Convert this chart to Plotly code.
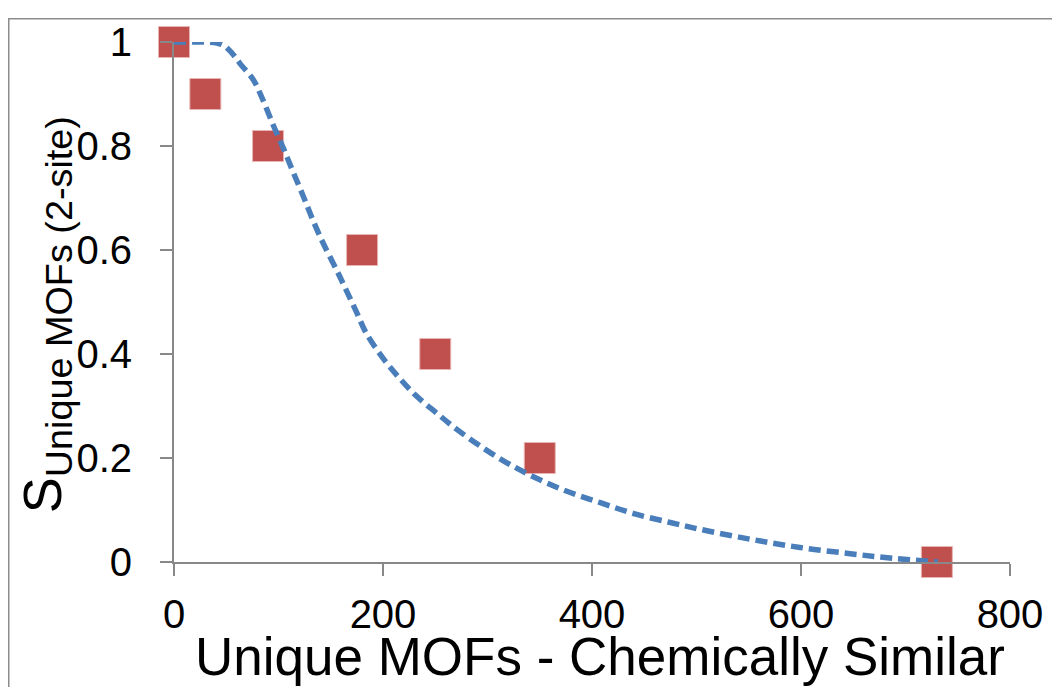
import plotly.graph_objects as go

# Data
marker_x = [0, 30, 90, 180, 250, 350, 730]
marker_y = [1.0, 0.9, 0.8, 0.6, 0.4, 0.2, 0.0]

curve_x = [0, 20, 32, 41, 47, 52, 57, 63, 76, 85, 95, 105, 114, 124, 133, 143, 156,
           165, 175, 184, 200, 216, 232, 251, 270, 296, 321, 347, 376, 408, 440,
           475, 503, 551, 599, 647, 688, 731]
curve_y = [1.0, 1.0, 1.0, 0.998, 0.994, 0.986, 0.975, 0.959, 0.927, 0.889, 0.84,
           0.794, 0.75, 0.702, 0.657, 0.612, 0.56, 0.522, 0.479, 0.44, 0.392,
           0.353, 0.319, 0.287, 0.256, 0.219, 0.188, 0.161, 0.136, 0.114, 0.093,
           0.076, 0.063, 0.044, 0.028, 0.016, 0.007, 0.0]

x_ticks = [0, 200, 400, 600, 800]
y_ticks = [0, 0.2, 0.4, 0.6, 0.8, 1]
y_tick_text = ["0", "0.2", "0.4", "0.6", "0.8", "1"]

# page body adds an 8px offset; figure coordinates are screen minus 8
W, H = 1052, 679
L, R, T, B = 166, 50, 27, 125
pw, ph = W - L - R, H - T - B

fig = go.Figure()
fig.add_trace(go.Scatter(
    x=marker_x, y=marker_y, mode="markers",
    marker=dict(symbol="square", size=31, color="#C0504D",
                line=dict(color="#E8B4B3", width=1)),
    cliponaxis=False, showlegend=False))
fig.add_trace(go.Scatter(
    x=curve_x, y=curve_y, mode="lines",
    line=dict(color="#4A7EBB", width=5.5, dash="12px,6px", shape="spline",
              smoothing=1),
    cliponaxis=False, showlegend=False))

axis_font = dict(family="Liberation Sans, Arial", size=40, color="black")
fig.update_xaxes(range=[0, 800], tickvals=x_ticks, ticks="outside", ticklen=12,
                 tickwidth=2, tickcolor="#888888", showline=True, linecolor="#888888",
                 linewidth=2, showgrid=False, zeroline=False, tickfont=axis_font,
                 ticklabelstandoff=4)
fig.update_yaxes(range=[0, 1], tickvals=y_ticks, ticktext=y_tick_text, ticks="outside",
                 ticklen=12, tickwidth=2, tickcolor="#888888", showline=True,
                 linecolor="#888888", linewidth=2, showgrid=False, zeroline=False,
                 tickfont=axis_font, ticklabelstandoff=20)

def px_x(p):
    return (p - L) / pw

def px_y(p):
    return (H - B - p) / ph

# outer frame
fig.add_shape(type="rect", xref="paper", yref="paper",
              x0=px_x(0.75), x1=px_x(1080), y0=px_y(710), y1=px_y(3.5),
              line=dict(color="#8C8C8C", width=1.5))

fig.add_annotation(xref="paper", yref="paper", x=px_x(592), y=px_y(650),
                   text="Unique MOFs - Chemically Similar", showarrow=False,
                   xanchor="center", yanchor="middle",
                   font=dict(family="Liberation Sans, Arial", size=53, color="black"))
fig.add_annotation(xref="paper", yref="paper", x=px_x(38), y=px_y(304),
                   text="S<sub>Unique MOFs (2-site)</sub>", showarrow=False,
                   textangle=-90, xanchor="center", yanchor="middle",
                   font=dict(family="Liberation Sans, Arial", size=54, color="black"))

fig.update_layout(width=W, height=H, margin=dict(l=L, r=R, t=T, b=B),
                  paper_bgcolor="white", plot_bgcolor="white")
fig.write_html("out.html")
